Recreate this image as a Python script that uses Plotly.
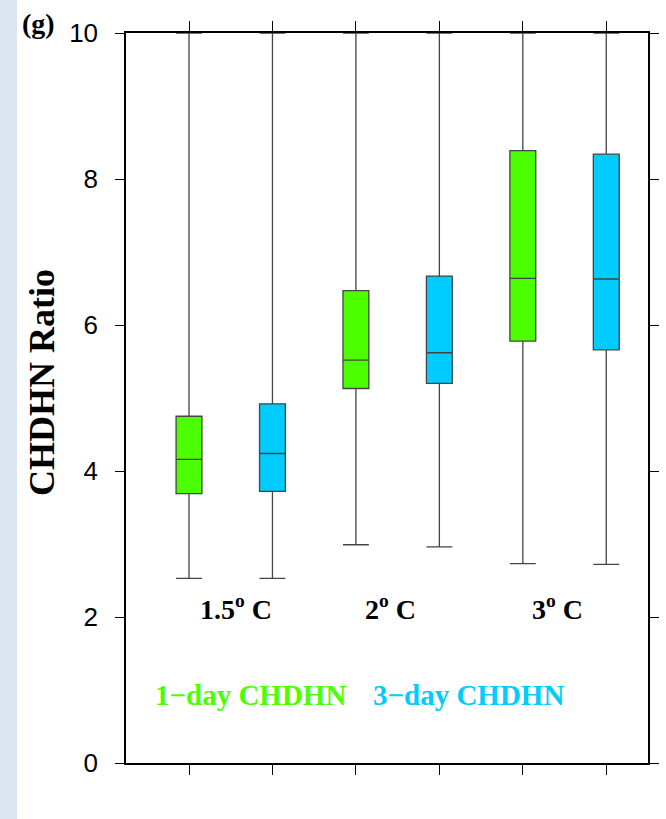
import plotly.graph_objects as go

# ---- data ----
positions_1day = [1, 3, 5]
positions_3day = [2, 4, 6]
q1_1day = [3.69, 5.13, 5.78]
med_1day = [4.16, 5.52, 6.64]
q3_1day = [4.75, 6.47, 8.39]
low_1day = [2.53, 2.99, 2.73]
up_1day = [10.0, 10.0, 10.0]

q1_3day = [3.72, 5.20, 5.66]
med_3day = [4.24, 5.62, 6.63]
q3_3day = [4.92, 6.67, 8.34]
low_3day = [2.53, 2.96, 2.72]
up_3day = [10.0, 10.0, 10.0]

warming_labels = ["1.5<sup>o</sup> C", "2<sup>o</sup> C", "3<sup>o</sup> C"]
label_xshift = [5, -7, -7]
label_y = 2.13
series_names = ["1\u2212day CHDHN", "3\u2212day CHDHN"]
y_ticks = [0, 2, 4, 6, 8, 10]

GREEN = "#4cff00"
BLUE = "#00ccff"
SERIF = "Liberation Serif, Times New Roman, serif"
SANS = "Liberation Sans, Arial, Helvetica, sans-serif"

W, H = 666, 819
L, R, T, B = 126, 18, 33, 56
pw, ph = W - L - R, H - T - B


def px(x):
    return (x - L) / pw


def py(y):
    return (H - B - y) / ph


fig = go.Figure()
for pos, q1, med, q3, lo, up, col, name in [
    (positions_1day, q1_1day, med_1day, q3_1day, low_1day, up_1day, GREEN, series_names[0]),
    (positions_3day, q1_3day, med_3day, q3_3day, low_3day, up_3day, BLUE, series_names[1]),
]:
    fig.add_trace(go.Box(
        x=pos, q1=q1, median=med, q3=q3, lowerfence=lo, upperfence=up,
        name=name, fillcolor=col, line=dict(color="#444444", width=1.3),
        width=0.31, whiskerwidth=1, boxpoints=False, showlegend=False,
        hoverinfo="skip",
    ))

# warming level labels
for i, lab in enumerate(warming_labels):
    xm = (positions_1day[i] + positions_3day[i]) / 2
    fig.add_annotation(x=xm, y=label_y, xref="x", yref="y", text="<b>" + lab + "</b>",
                       showarrow=False, xshift=label_xshift[i],
                       xanchor="center", yanchor="middle",
                       font=dict(family=SERIF, size=28, color="black"))

# series labels
for name, xc, col in [(series_names[0], 250.5, GREEN), (series_names[1], 468.3, BLUE)]:
    fig.add_annotation(x=px(xc), y=py(695), xref="paper", yref="paper",
                       text="<b>" + name + "</b>", showarrow=False,
                       xanchor="center", yanchor="middle",
                       font=dict(family=SERIF, size=29, color=col))

# y title
fig.add_annotation(x=px(42), y=py(383), xref="paper", yref="paper", text="<b>CHDHN Ratio</b>",
                   textangle=-90, showarrow=False, xanchor="center", yanchor="middle",
                   font=dict(family=SERIF, size=36, color="black"))
# panel label
fig.add_annotation(x=px(38), y=py(24), xref="paper", yref="paper", text="<b>(g)</b>",
                   showarrow=False, xanchor="center", yanchor="middle",
                   font=dict(family=SERIF, size=28, color="black"))

# left strip
fig.add_shape(type="rect", xref="paper", yref="paper",
              x0=px(-5), x1=px(17), y0=-0.2, y1=1.2,
              fillcolor="#dce6f2", line=dict(width=0), layer="below")

fig.update_layout(
    width=W, height=H, margin=dict(l=L, r=R, t=T, b=B, autoexpand=False),
    autosize=False,
    plot_bgcolor="white", paper_bgcolor="white",
    boxmode="overlay",
)
fig.update_xaxes(range=[0.245, 6.50], tickvals=positions_1day + positions_3day,
                 showticklabels=False, ticks="outside", ticklen=10, tickcolor="black",
                 tickwidth=1.3, showline=True, linecolor="black", linewidth=1.5,
                 mirror="ticks", showgrid=False, zeroline=False, automargin=False)
fig.update_yaxes(range=[0, 10], tickvals=y_ticks, ticks="outside", ticklen=9,
                 tickcolor="black", tickwidth=1.3, showline=True, linecolor="black",
                 linewidth=1.5, mirror="ticks", showgrid=False, zeroline=False,
                 tickfont=dict(family=SANS, size=26, color="black"),
                 ticklabelstandoff=12, automargin=False)

fig.write_html(
    "out.html",
    config={"displayModeBar": False, "responsive": False},
    post_script="document.body.style.margin='0';document.body.style.overflow='hidden';",
)
